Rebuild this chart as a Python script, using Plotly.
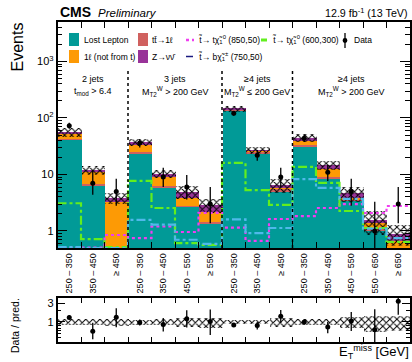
import math
import plotly.graph_objects as go

# ---------------- data ----------------
bin_labels = ["250 – 350", "350 – 450", "≥ 450",
              "250 – 350", "350 – 450", "450 – 550", "≥ 550",
              "250 – 350", "350 – 450", "≥ 450",
              "250 – 350", "350 – 450", "450 – 550", "550 – 650", "≥ 650"]
lost_lepton = [41, 6.3, 0.3, 24, 6.0, 2.66, 1.38, 135, 24, 5.1, 30.6, 8.3, 3.5, 1.04, 0.3]
tt_1l = [1.5, 0.4, 0.1, 1.0, 0.3, 0.1, 0.05, 4, 1.2, 0.4, 3.0, 0.9, 0.1, 0.03, 0.02]
onel_not_t = [11, 4.3, 2.8, 8, 2.7, 1.0, 0.7, 4, 1.0, 0.5, 6, 3.5, 0.3, 0.3, 0.35]
znunu = [2.5, 1.0, 0.6, 4, 1.4, 1.2, 0.8, 2, 0.8, 0.5, 4.4, 2.0, 0.8, 0.2, 0.23]
rel_unc = [0.17, 0.18, 0.22, 0.15, 0.17, 0.25, 0.28, 0.12, 0.13, 0.27, 0.16, 0.18, 0.3, 0.45, 0.4]
data = [73, 7, 5, 36, 9, 6, 3, 121, 22, 9, 44, 11, 5, 1, 3]
data_lo = [64.5, 4.4, 2.8, 30, 6.0, 3.6, 1.37, 110, 17.5, 6.0, 37.5, 7.7, 2.8, 0.17, 1.37]
data_hi = [82.5, 11.5, 8.4, 42.5, 13.1, 9.8, 6.0, 132, 27, 13.1, 51, 14.8, 8.4, 3.3, 6.0]
sig_850_50 = [0.51, 0.51, 0.85, 0.75, 1.2, 0.96, 2.1, 1.15, 0.67, 1.63, 1.84, 2.55, 3.0, 2.08, 2.77]
sig_600_300 = [3.1, 0.72, 0.52, 7.7, 2.55, 0.61, 0.57, 16, 5.3, 2.9, 13.6, 7.1, 2.26, 1.13, 0.64]
sig_750_50 = [0.52, 0.5, 0.5, 1.57, 1.3, 0.7, 0.59, 1.6, 0.92, 1.13, 8.3, 5.8, 3.7, 1.1, 0.75]
region_dividers = [3, 7, 10]

# ---------------- helpers ----------------
W, H = 412, 362
def P(x): return x / W
def Q(y): return 1 - y / H

n = len(bin_labels)
centers = [i + 0.5 for i in range(n)]
edges = list(range(n + 1))
total = [a + b + c + d for a, b, c, d in zip(lost_lepton, tt_1l, onel_not_t, znunu)]

C_LL = "#019a97"
C_W = "#fd9a05"
C_TT = "#d0615f"
C_Z = "#993399"
C_MAG = "#f03ef0"
C_GRN = "#62ee1e"
C_BLU = "#4fb9ea"
C_NAVY = "#1a1a80"
FONT = "Liberation Sans, Arial, sans-serif"

fig = go.Figure()

for vals, col in [(lost_lepton, C_LL), (tt_1l, C_TT), (onel_not_t, C_W), (znunu, C_Z)]:
    fig.add_trace(go.Bar(x=centers, y=vals, width=1, marker=dict(color=col, line=dict(width=0)),
                         xaxis="x", yaxis="y", showlegend=False))

# uncertainty hatch (main)
fig.add_trace(go.Bar(x=centers, y=[2 * t * r for t, r in zip(total, rel_unc)],
                     base=[t * (1 - r) for t, r in zip(total, rel_unc)], width=1,
                     marker=dict(color="rgba(255,255,255,0.45)", line=dict(width=0),
                                 pattern=dict(shape="x", fgcolor="black", size=5, solidity=0.35,
                                              fillmode="replace")),
                     xaxis="x", yaxis="y", showlegend=False))

# signals as step lines
for vals, col, dash in [(sig_850_50, C_MAG, "dot"), (sig_600_300, C_GRN, "dashdot"),
                        (sig_750_50, C_BLU, "dashdot")]:
    fig.add_trace(go.Scatter(x=edges, y=vals + [vals[-1]], mode="lines", line_shape="hv",
                             line=dict(color=col, width=2.2, dash=dash),
                             xaxis="x", yaxis="y", showlegend=False))

# data
fig.add_trace(go.Scatter(x=centers, y=data, mode="markers",
                         marker=dict(color="black", size=5),
                         error_y=dict(type="data", symmetric=False,
                                      array=[h - d for h, d in zip(data_hi, data)],
                                      arrayminus=[d - l for d, l in zip(data, data_lo)],
                                      color="black", thickness=1.3, width=0),
                         xaxis="x", yaxis="y", showlegend=False))

# ratio band
fig.add_trace(go.Bar(x=centers, y=[2 * r for r in rel_unc], base=[1 - r for r in rel_unc], width=1,
                     marker=dict(color="rgba(255,255,255,0)", line=dict(width=0),
                                 pattern=dict(shape="x", fgcolor="black", size=5, solidity=0.35,
                                              fillmode="replace")),
                     xaxis="x2", yaxis="y2", showlegend=False))
ratio = [d / t for d, t in zip(data, total)]
fig.add_trace(go.Scatter(x=centers, y=ratio, mode="markers",
                         marker=dict(color="black", size=5),
                         error_y=dict(type="data", symmetric=False,
                                      array=[(h - d) / t for h, d, t in zip(data_hi, data, total)],
                                      arrayminus=[(d - l) / t for d, l, t in zip(data, data_lo, total)],
                                      color="black", thickness=1.3, width=0),
                         xaxis="x2", yaxis="y2", showlegend=False))

minor_main = [v * 10 ** k for k in range(-1, 4) for v in range(2, 10)]
minor_main = [v for v in minor_main if 0.5 <= v <= 5000]

xdom = [P(57.5), P(410)]
fig.update_layout(
    width=W, height=H, margin=dict(l=0, r=0, t=0, b=0),
    paper_bgcolor="white", plot_bgcolor="white",
    font=dict(family=FONT, color="black"),
    barmode="stack", bargap=0,
    xaxis=dict(domain=xdom, range=[0, n], anchor="y", tickmode="array", tickvals=centers,
               ticktext=bin_labels, tickangle=-90, ticks="", tickfont=dict(size=9),
               showline=True, linecolor="black", linewidth=1.5, mirror="ticks",
               minor=dict(tickvals=edges, ticks="inside", ticklen=6, tickcolor="black"),
               showgrid=False, zeroline=False),
    yaxis=dict(domain=[Q(248), Q(22)], type="log", range=[math.log10(0.5), math.log10(5000)],
               anchor="x", tickmode="array", tickvals=[1, 10, 100, 1000],
               ticktext=["1", "10", "10<sup>2</sup>", "10<sup>3</sup>"], tickfont=dict(size=11),
               ticks="inside", ticklen=10, tickcolor="black",
               showline=True, linecolor="black", linewidth=1.5, mirror="ticks",
               minor=dict(tickvals=minor_main, ticks="inside", ticklen=5, tickcolor="black"),
               showgrid=False, zeroline=False),
    xaxis2=dict(domain=xdom, range=[0, n], anchor="y2", tickmode="array", tickvals=edges,
                showticklabels=False, ticks="inside", ticklen=5, tickcolor="black",
                showline=True, linecolor="black", linewidth=1.5, mirror="ticks",
                showgrid=False, zeroline=False),
    yaxis2=dict(domain=[Q(342), Q(298)], type="log", range=[-0.503, 0.603], anchor="x2",
                tickmode="array", tickvals=[0.3, 1, 3], ticktext=["0.3", "1", "3"],
                tickfont=dict(size=11), ticks="inside", ticklen=8, tickcolor="black",
                showline=True, linecolor="black", linewidth=1.5, mirror="ticks",
                minor=dict(tickvals=[0.4, 0.5, 0.6, 0.7, 0.8, 0.9, 2], ticks="inside", ticklen=4,
                           tickcolor="black"),
                showgrid=False, zeroline=False),
)

shapes = []
for d in region_dividers:
    shapes.append(dict(type="line", xref="x", yref="paper", x0=d, x1=d, y0=Q(248), y1=Q(70),
                       line=dict(color="black", width=1.5, dash="dot")))

# legend (manual)
def box(x0, y0, x1, y1, col):
    shapes.append(dict(type="rect", xref="paper", yref="paper", x0=P(x0), x1=P(x1), y0=Q(y1), y1=Q(y0),
                       fillcolor=col, line=dict(width=0)))
box(69, 33, 79, 46, C_LL)
box(138, 33, 148, 46, C_TT)
box(69, 50, 79, 63, C_W)
box(138, 50, 148, 63, C_Z)
shapes.append(dict(type="line", xref="paper", yref="paper", x0=P(186), x1=P(194), y0=Q(40), y1=Q(40),
                   line=dict(color=C_MAG, width=2.5, dash="dot")))
shapes.append(dict(type="line", xref="paper", yref="paper", x0=P(261), x1=P(267), y0=Q(40), y1=Q(40),
                   line=dict(color=C_GRN, width=3)))
shapes.append(dict(type="line", xref="paper", yref="paper", x0=P(186), x1=P(193), y0=Q(56.5), y1=Q(56.5),
                   line=dict(color=C_NAVY, width=1.5)))
shapes.append(dict(type="line", xref="paper", yref="paper", x0=P(345), x1=P(345), y0=Q(33), y1=Q(48),
                   line=dict(color="black", width=1.3)))
shapes.append(dict(type="circle", xref="paper", yref="paper", x0=P(342.6), x1=P(347.4), y0=Q(42.9), y1=Q(38.1),
                   fillcolor="black", line=dict(width=0)))
fig.update_layout(shapes=shapes)

ann = []
def text(x, y, s, size, xanchor="left", yanchor="middle", angle=0, **kw):
    ann.append(dict(x=P(x), y=Q(y), xref="paper", yref="paper", text=s, showarrow=False,
                    xanchor=xanchor, yanchor=yanchor, textangle=angle,
                    font=dict(size=size, family=FONT, color="black"), **kw))

text(82, 40, "Lost Lepton", 8.5)
text(150, 40, "tt̄→1ℓ", 8.5)
text(196, 40, "t̃→ tχ̃<sub>1</sub><sup>0</sup> (850,50)", 8.5)
text(270, 40, "t̃→ tχ̃<sub>1</sub><sup>0</sup> (600,300)", 8.5)
text(352, 40, "Data", 8.5)
text(82, 56.5, "1ℓ (not from t)", 8.5)
text(150, 56.5, "Z→νν̄", 8.5)
text(196, 56.5, "t̃→ bχ̃<sub>1</sub><sup>±</sup> (750,50)", 8.5)

region_text = [(1.5, "2 jets", "t<sub>mod</sub> > 6.4"),
               (5.0, "3 jets", "M<sub>T2</sub><sup>W</sup> > 200 GeV"),
               (8.5, "≥4 jets", "M<sub>T2</sub><sup>W</sup> ≤ 200 GeV"),
               (12.5, "≥4 jets", "M<sub>T2</sub><sup>W</sup> > 200 GeV")]
for xc, t1, t2 in region_text:
    ann.append(dict(x=xc, y=Q(79), xref="x", yref="paper", text=t1, showarrow=False,
                    xanchor="center", yanchor="middle", font=dict(size=9, family=FONT)))
    ann.append(dict(x=xc, y=Q(91.5), xref="x", yref="paper", text=t2, showarrow=False,
                    xanchor="center", yanchor="middle", font=dict(size=9, family=FONT)))

text(58, 12, "<b>CMS</b>", 14)
text(96, 13, "<i>Preliminary</i>", 11.5)
text(410, 13, "12.9 fb<sup>-1</sup> (13 TeV)", 10.7, xanchor="right")
text(17, 21, "Events", 16, xanchor="center", yanchor="top", angle=-90)
text(15, 325, "Data / pred.", 10.5, xanchor="center", yanchor="middle", angle=-90)
text(411, 352, "E<sub>T</sub><sup>miss</sup> [GeV]", 13, xanchor="right")
fig.update_layout(annotations=ann)

fig.write_html("out.html")
